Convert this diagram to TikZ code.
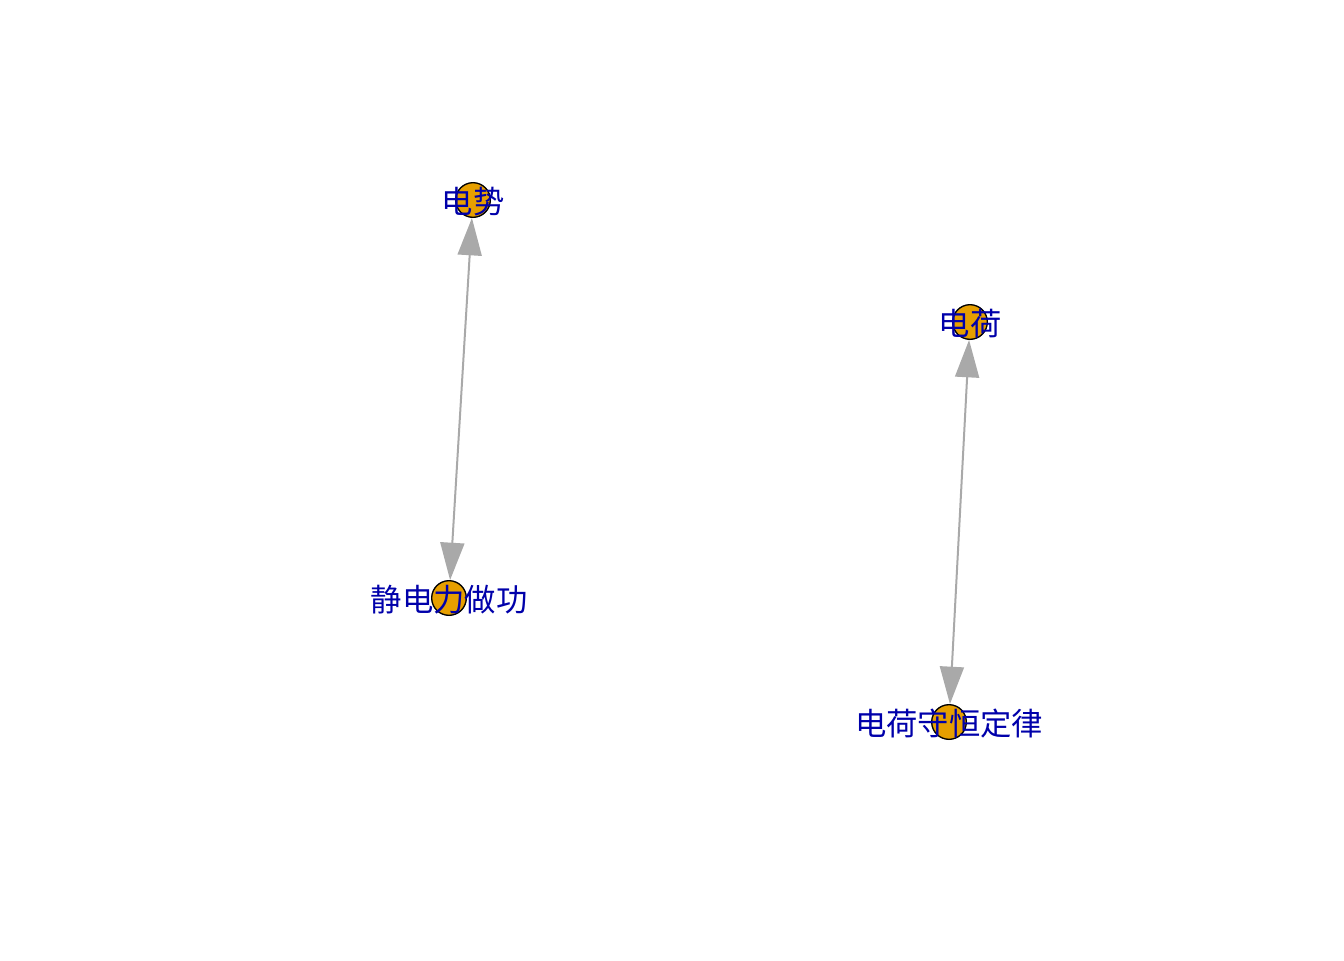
\documentclass[tikz,border=0pt]{standalone}
\usepackage{fontspec}
\newfontfamily\cjk{Noto Sans CJK SC}
\usetikzlibrary{arrows.meta}
\definecolor{vorange}{RGB}{230,159,0}
\definecolor{vblue}{RGB}{0,0,170}
\definecolor{egray}{RGB}{169,169,169}
\begin{document}
\begin{tikzpicture}[x=0.75pt,y=-0.75pt,
        vlabel/.style={text=vblue,font=\cjk\fontsize{23.5pt}{28pt}\selectfont,inner sep=0pt,yshift=-1.5pt},
        main node/.style={circle,draw=black,fill=vorange,line width=1pt,
                minimum size=26pt,inner sep=0pt,label={[vlabel]center:#1}},
        edge/.style={draw=egray,line width=1.5pt,
                {Triangle[length=28pt,width=18pt]}-{Triangle[length=28pt,width=18pt]}}]
\useasboundingbox (0,0) rectangle (1344,960);

\node (Dianshi) [main node=电势] at (473,200) {};
\node (Jingdian) [main node=静电力做功] at (449,598) {};
\node (Dianhe) [main node=电荷] at (970,322) {};
\node (Shouheng) [main node=电荷守恒定律] at (949,722) {};

\draw[edge] (Dianshi) -- (Jingdian);
\draw[edge] (Dianhe) -- (Shouheng);

\end{tikzpicture}
\end{document}
